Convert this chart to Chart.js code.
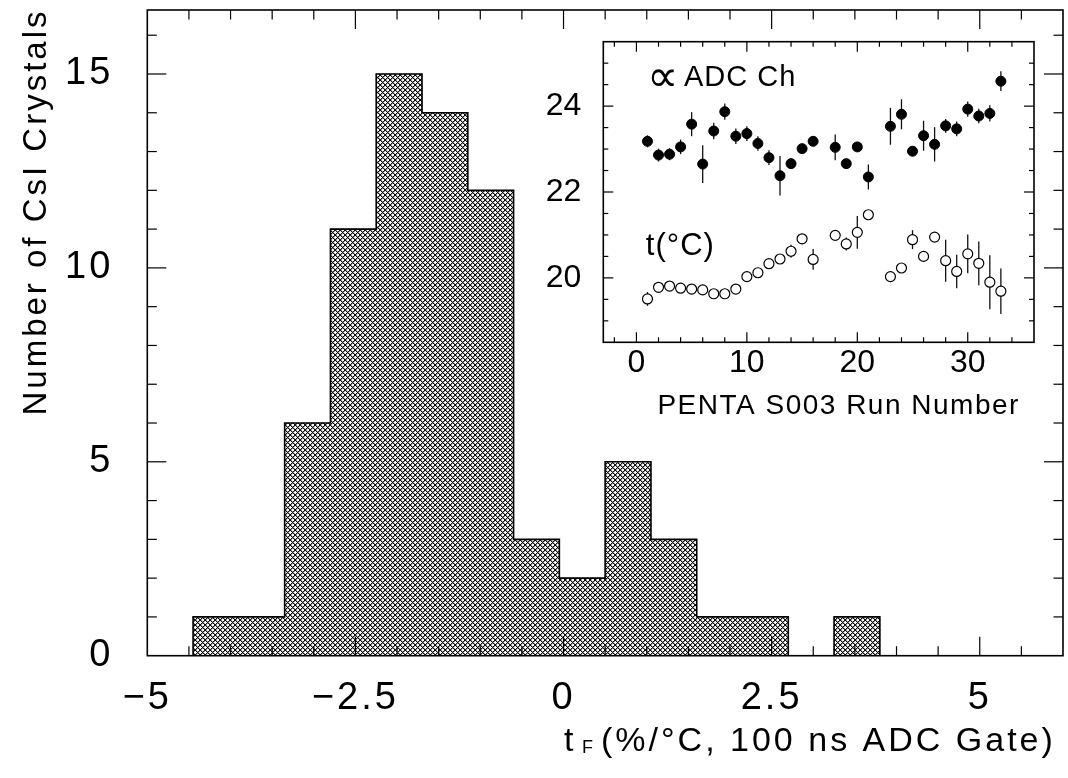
<!DOCTYPE html>
<html><head><meta charset="utf-8">
<script src="https://cdn.jsdelivr.net/npm/chart.js@4.4.0/dist/chart.umd.min.js"></script>
<style>
html,body{margin:0;padding:0;background:#fff;}
#wrap{position:relative;width:1068px;height:778px;background:#fff;}
canvas{position:absolute;left:0;top:0;}
</style></head><body>
<div id="wrap"><canvas id="main" width="1068" height="778"></canvas><canvas id="inset" width="1068" height="778"></canvas></div>
<script>
// ---------- data ----------
const binEdges = [-4.45,-3.90,-3.35,-2.80,-2.25,-1.70,-1.15,-0.60,-0.05,0.50,1.05,1.60,2.15,2.70,3.25,3.80];
const binCounts = [1,1,6,11,15,14,12,3,2,5,3,1,1,0,1];
const mainXTicks = [-5,-2.5,0,2.5,5];
const mainYTicks = [0,5,10,15];

const runNumbers = [1,2,3,4,5,6,7,8,9,10,11,12,13,14,15,16,18,19,20,21,23,24,25,26,27,28,29,30,31,32,33];
const adcChannel = [23.18,22.86,22.88,23.05,23.58,22.65,23.42,23.87,23.30,23.36,23.13,22.80,22.38,22.66,23.01,23.18,23.04,22.66,23.05,22.35,23.53,23.81,22.95,23.31,23.11,23.54,23.47,23.93,23.77,23.83,24.58];
const adcError = [0.14,0.15,0.14,0.17,0.28,0.44,0.19,0.19,0.18,0.17,0.17,0.17,0.46,0.12,0.10,0.08,0.30,0.10,0.08,0.29,0.43,0.35,0.07,0.35,0.40,0.16,0.17,0.18,0.17,0.19,0.23];
const temperature = [19.51,19.78,19.81,19.76,19.74,19.72,19.63,19.63,19.74,20.03,20.12,20.33,20.44,20.62,20.91,20.43,20.99,20.79,21.06,21.47,20.03,20.23,20.89,20.50,20.95,20.40,20.15,20.56,20.34,19.90,19.69];
const temperatureError = [0.16,0.05,0.05,0.05,0.05,0.05,0.05,0.05,0.05,0.05,0.05,0.05,0.05,0.15,0.08,0.24,0.05,0.15,0.38,0.05,0.05,0.05,0.22,0.05,0.05,0.49,0.39,0.45,0.51,0.63,0.53];
const insetXTicks = [0,10,20,30];
const insetYTicks = [20,22,24];

const mainXTitle = ['t', 'F', '(%/°C, 100 ns ADC Gate)'];
const mainYTitle = 'Number of CsI Crystals';
const insetXTitle = 'PENTA S003 Run Number';
const adcLabel = ['∝', 'ADC Ch'];
const tempLabel = 't(°C)';

// ---------- setup ----------
const FONT = "'Liberation Sans', Arial, sans-serif";
Chart.defaults.font.family = FONT;
Chart.defaults.color = '#000';
Chart.defaults.animation = false;

const fmt = v => String(v).replace('-', '\u2212');
const zeroPad = s => { s.paddingTop = 0; s.paddingBottom = 0; s.paddingLeft = 0; s.paddingRight = 0; };

function makeHatch(ctx){
  const n = 5;
  const t = document.createElement('canvas'); t.width = n; t.height = n;
  const c = t.getContext('2d');
  const img = c.createImageData(n, n);
  for (let yy = 0; yy < n; yy++) {
    for (let xx = 0; xx < n; xx++) {
      const on = ((xx - yy + n) % n === 0) || ((xx + yy) % n === n - 1);
      const half = ((xx - yy + n) % n === 1) || ((xx + yy) % n === 0);
      const k = (yy * n + xx) * 4;
      const g = on ? 15 : (half ? 150 : 255);
      img.data[k] = g; img.data[k + 1] = g; img.data[k + 2] = g; img.data[k + 3] = 255;
    }
  }
  c.putImageData(img, 0, 0);
  return ctx.createPattern(t, 'repeat');
}

function seg(ctx, x1, y1, x2, y2){ ctx.beginPath(); ctx.moveTo(x1, y1); ctx.lineTo(x2, y2); ctx.stroke(); }

// ---------- main histogram ----------
const mainCanvas = document.getElementById('main');
const mctx = mainCanvas.getContext('2d');
const hatch = makeHatch(mctx);

const barData = binCounts.map((c, i) => ({x: (binEdges[i] + binEdges[i + 1]) / 2, y: c}));
const outlineData = [{x: binEdges[0], y: 0}]
  .concat(binCounts.map((c, i) => ({x: binEdges[i], y: c})))
  .concat([{x: binEdges[binEdges.length - 1], y: 0}]);

const mainPlugin = {
  id: 'mainFrame',
  beforeDraw(chart){ chart.ctx.letterSpacing = '3px'; },
  afterDraw(chart){
    const {ctx, chartArea: a, scales: {x, y}} = chart;
    ctx.save();
    ctx.strokeStyle = '#000';
    ctx.lineWidth = 1.2;
    for (let i = 1; i * 0.5 < x.max - x.min; i++) {
      const v = x.min + i * 0.5;
      const px = x.getPixelForValue(v);
      const major = Math.abs(v / 2.5 - Math.round(v / 2.5)) < 1e-6;
      const L = major ? 19 : 9.5;
      seg(ctx, px, a.bottom, px, a.bottom - L);
      seg(ctx, px, a.top, px, a.top + L);
    }
    for (let v = 1; v < y.max; v++) {
      const py = y.getPixelForValue(v);
      const L = v % 5 === 0 ? 19 : 9.5;
      seg(ctx, a.left, py, a.left + L, py);
      seg(ctx, a.right, py, a.right - L, py);
    }
    ctx.lineWidth = 1.6;
    ctx.strokeRect(a.left, a.top, a.right - a.left, a.bottom - a.top);

    ctx.fillStyle = '#000';
    ctx.letterSpacing = '3px';
    // y title
    ctx.save();
    ctx.translate(37, 212);
    ctx.rotate(-Math.PI / 2);
    ctx.font = '33px ' + FONT;
    ctx.textAlign = 'center';
    ctx.textBaseline = 'middle';
    ctx.fillText(mainYTitle, 0, 0);
    ctx.restore();
    // x title
    ctx.textBaseline = 'alphabetic';
    ctx.textAlign = 'left';
    ctx.font = '34px ' + FONT;
    ctx.fillText(mainXTitle[0], 564, 751);
    ctx.letterSpacing = '0px';
    ctx.font = '18px ' + FONT;
    ctx.fillText(mainXTitle[1], 582, 753);
    ctx.letterSpacing = '3px';
    ctx.font = '34px ' + FONT;
    ctx.fillText(mainXTitle[2], 601, 751);
    ctx.restore();
  }
};

new Chart(mainCanvas, {
  type: 'line',
  data: {datasets: [
    {type: 'bar', data: barData, backgroundColor: hatch, borderWidth: 0, barPercentage: 1, categoryPercentage: 1, grouped: false, order: 2},
    {type: 'line', data: outlineData, stepped: 'before', borderColor: '#000', borderWidth: 1.6, pointRadius: 0, fill: false, order: 1}
  ]},
  options: {
    responsive: false, devicePixelRatio: 1, animation: false,
    layout: {autoPadding: false, padding: {left: 0, right: 5, top: 10, bottom: 0}},
    plugins: {legend: {display: false}, tooltip: {enabled: false}},
    scales: {
      x: {type: 'linear', min: -5, max: 6, offset: false, position: 'bottom',
          grid: {display: false}, border: {display: false},
          afterBuildTicks: s => { s.ticks = mainXTicks.map(v => ({value: v})); },
          afterFit: s => { s.height = 778 - 655.7; zeroPad(s); },
          ticks: {padding: 12, maxRotation: 0, autoSkip: false, font: {size: 38}, callback: v => fmt(v)}},
      y: {type: 'linear', min: 0, max: 16.65, position: 'left',
          grid: {display: false}, border: {display: false},
          afterBuildTicks: s => { s.ticks = mainYTicks.map(v => ({value: v})); },
          afterFit: s => { s.width = 147.3; zeroPad(s); },
          ticks: {padding: 26, autoSkip: false, font: {size: 38}, callback: v => fmt(v)}}
    }
  },
  plugins: [mainPlugin]
});

// ---------- inset ----------
const insetCanvas = document.getElementById('inset');
const adcData = runNumbers.map((r, i) => ({x: r, y: adcChannel[i]}));
const tempData = runNumbers.map((r, i) => ({x: r, y: temperature[i]}));

const insetPlugin = {
  id: 'insetFrame',
  beforeDraw(chart){ chart.ctx.letterSpacing = '0px'; },
  beforeDatasetsDraw(chart){
    const {ctx, scales: {x, y}} = chart;
    ctx.save();
    ctx.strokeStyle = '#111';
    ctx.lineWidth = 1.3;
    const bars = [[adcChannel, adcError], [temperature, temperatureError]];
    for (const [vals, errs] of bars) {
      runNumbers.forEach((r, i) => {
        const px = x.getPixelForValue(r);
        seg(ctx, px, y.getPixelForValue(vals[i] - errs[i]), px, y.getPixelForValue(vals[i] + errs[i]));
      });
    }
    ctx.restore();
  },
  afterDraw(chart){
    const {ctx, chartArea: a, scales: {x, y}} = chart;
    ctx.save();
    ctx.strokeStyle = '#000';
    ctx.lineWidth = 1.2;
    for (let v = -2; v < x.max; v += 2) {
      const px = x.getPixelForValue(v);
      const L = v % 10 === 0 ? 10 : 5;
      seg(ctx, px, a.bottom, px, a.bottom - L);
      seg(ctx, px, a.top, px, a.top + L);
    }
    for (let i = 1; y.min + i * 0.5 < y.max - 1e-6; i++) {
      const v = y.min + i * 0.5;
      const py = y.getPixelForValue(v);
      const L = (Math.abs(v - Math.round(v)) < 1e-6 && Math.round(v) % 2 === 0) ? 10 : 5;
      seg(ctx, a.left, py, a.left + L, py);
      seg(ctx, a.right, py, a.right - L, py);
    }
    ctx.lineWidth = 1.6;
    ctx.strokeRect(a.left, a.top, a.right - a.left, a.bottom - a.top);

    ctx.fillStyle = '#000';
    ctx.textBaseline = 'middle';
    ctx.textAlign = 'left';
    ctx.letterSpacing = '0px';
    ctx.font = "44px 'DejaVu Sans', sans-serif";
    ctx.fillText(adcLabel[0], x.getPixelForValue(0.95), y.getPixelForValue(24.62));
    ctx.letterSpacing = '1px';
    ctx.font = '29px ' + FONT;
    ctx.fillText(adcLabel[1], x.getPixelForValue(4.3), y.getPixelForValue(24.66));
    ctx.font = '31px ' + FONT;
    ctx.fillText(tempLabel, x.getPixelForValue(0.85), y.getPixelForValue(20.73));
    ctx.letterSpacing = '1.5px';
    ctx.font = '28px ' + FONT;
    ctx.textAlign = 'center';
    ctx.fillText(insetXTitle, (a.left + a.right) / 2 + 20, 406);
    ctx.restore();
  }
};

new Chart(insetCanvas, {
  type: 'scatter',
  data: {datasets: [
    {data: adcData, pointStyle: 'circle', pointRadius: 5, pointBackgroundColor: '#000', pointBorderColor: '#000', pointBorderWidth: 1, showLine: false},
    {data: tempData, pointStyle: 'circle', pointRadius: 5, pointBackgroundColor: '#fff', pointBorderColor: '#000', pointBorderWidth: 1.2, showLine: false}
  ]},
  options: {
    responsive: false, devicePixelRatio: 1, animation: false,
    layout: {autoPadding: false, padding: {left: 540, right: 1068 - 1034, top: 41.7, bottom: 300}},
    plugins: {legend: {display: false}, tooltip: {enabled: false}},
    scales: {
      x: {type: 'linear', min: -3, max: 36, position: 'bottom',
          grid: {display: false}, border: {display: false},
          afterBuildTicks: s => { s.ticks = insetXTicks.map(v => ({value: v})); },
          afterFit: s => { s.height = 778 - 300 - 342.3; zeroPad(s); },
          ticks: {padding: -6, maxRotation: 0, autoSkip: false, font: {size: 32}}},
      y: {type: 'linear', min: 18.5, max: 25.5, position: 'left',
          grid: {display: false}, border: {display: false},
          afterBuildTicks: s => { s.ticks = insetYTicks.map(v => ({value: v})); },
          afterFit: s => { s.width = 603.3 - 540; zeroPad(s); },
          ticks: {padding: 14, autoSkip: false, font: {size: 32}}}
    }
  },
  plugins: [insetPlugin]
});
</script>
</body></html>
